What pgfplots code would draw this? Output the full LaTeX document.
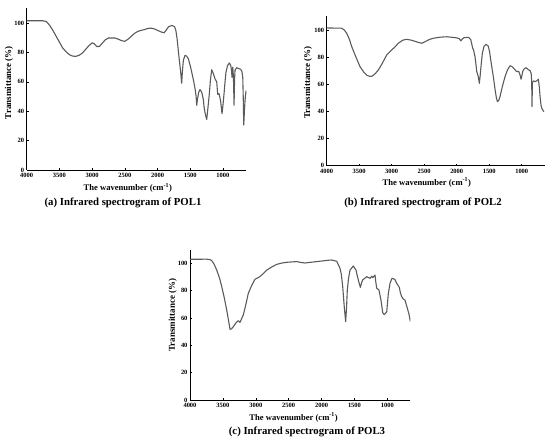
\documentclass[border=0pt]{standalone}
\usepackage{fontspec}
\setmainfont{Liberation Serif}
\usepackage{pgfplots}
\pgfplotsset{compat=1.18}
\definecolor{curve}{RGB}{90,90,90}
\newcommand\lblfont{\fontsize{8.6}{10}\selectfont\bfseries}
\newcommand\ylblfont{\fontsize{9}{10}\selectfont\bfseries}
\pgfplotsset{ir/.style={
  scale only axis,
  anchor=south west,
  axis x line=bottom, axis y line=left,
  axis line style={-, line width=0.6pt},
  x dir=reverse,
  xmax=4000, ymin=0, ymax=110,
  xtick={1000,1500,2000,2500,3000,3500,4000},
  ytick={0,20,40,60,80,100},
  tick align=inside, major tick length=2bp,
  tick style={black, line width=0.5pt},
  ticklabel style={font=\fontsize{6.5}{7}\selectfont\bfseries},
  yticklabel style={xshift=1bp},
  /pgf/number format/assume math mode=true,
  /pgf/number format/1000 sep={},
  xlabel={The wavenumber (cm\textsuperscript{-1})},
  ylabel={Transmittance (\%)},
  clip=true,
}}
\pgfplotsset{spec/.style={color=curve, line width=1.1pt, mark=none, line join=round}}
\begin{document}
\begin{tikzpicture}
\path[use as bounding box] (0,0) rectangle (550bp,444bp);
% (a)
\begin{axis}[ir, at={(26.7bp,274bp)}, width=219.8bp, height=161.7bp, xmin=640,
  every axis x label/.style={at={(axis description cs:0.46,0)}, anchor=center, yshift=-18bp, font=\lblfont},
  every axis y label/.style={at={(axis description cs:0,0.54)}, xshift=-17.7bp, anchor=center, rotate=90, font=\ylblfont}]
\addplot[spec] coordinates {
(4000,101.5)(3750,101.5)(3700,101)(3650,98.5)(3600,95)(3550,91)(3500,87)(3450,83)(3400,80.5)(3350,78.5)(3300,77.5)(3250,77.3)(3200,78)(3150,79.5)(3100,82)(3050,84.5)(3000,86.5)(2970,86)(2930,84)(2890,84)(2850,86)(2800,88.5)(2750,89.8)(2650,89.8)(2600,89)(2550,88)(2500,87.5)(2450,89)(2400,91)(2350,93)(2300,94.3)(2250,95)(2200,95.5)(2150,96.3)(2100,96.5)(2050,96)(2000,95)(1950,94)(1900,93.3)(1870,95)(1830,97.5)(1780,98.3)(1740,97.5)(1720,95)(1700,89)(1682,81)(1660,72)(1645,66)(1631,59)(1618,68)(1605,74.6)(1580,78)(1555,77.5)(1529,75.7)(1500,71)(1478,66.7)(1450,61)(1427,55.4)(1410,50)(1401,44)(1390,48)(1370,53)(1350,54.7)(1325,53)(1300,48)(1289,43)(1270,38)(1248,34.4)(1230,42)(1208,52)(1190,62)(1171,68.2)(1160,67)(1146,65.5)(1121,62)(1095,59.9)(1085,54)(1080,51.5)(1060,52)(1045,49)(1034,46.3)(1014,38.4)(1000,44)(983,52)(968,60)(953,66.7)(930,71)(902,72.8)(880,71)(870,68)(861,63)(855,68)(850,70)(840,64)(830,44)(822,62)(815,68)(789,69.6)(760,69)(728,68.5)(710,67)(697,63)(690,50)(682,30.5)(672,40)(662,47.5)(647,54)
};
\end{axis}
% (b)
\begin{axis}[ir, at={(326.7bp,278.3bp)}, width=217.8bp, height=149.3bp, xmin=650,
  every axis x label/.style={at={(axis description cs:0.46,0)}, anchor=center, yshift=-17bp, font=\lblfont},
  every axis y label/.style={at={(axis description cs:0,0.557)}, xshift=-18.7bp, anchor=center, rotate=90, font=\ylblfont}]
\addplot[spec] coordinates {
(4000,101.5)(3770,101.3)(3730,100)(3692,97.6)(3650,93)(3615,87.7)(3550,80)(3488,73)(3430,69)(3380,66.5)(3334,65.8)(3300,66)(3250,68)(3206,70.5)(3150,75)(3100,79.5)(3077,81.6)(3000,85.3)(2950,87.5)(2898,90.2)(2830,92.5)(2769,93.1)(2700,92.5)(2666,92)(2600,91)(2538,90.2)(2480,91.5)(2420,93)(2360,93.9)(2250,94.7)(2154,95)(2050,94.5)(2000,94.2)(1960,93.5)(1938,92)(1910,93.5)(1888,94.3)(1822,94.6)(1785,93)(1754,86.5)(1740,85)(1719,80.3)(1705,75)(1692,69.3)(1670,66)(1652,60.7)(1640,66)(1631,71)(1606,82.8)(1580,88)(1549,89.5)(1514,88)(1495,84)(1477,78)(1455,71)(1437,65.6)(1410,56)(1390,50)(1375,47.2)(1355,48)(1334,51)(1300,58)(1257,65.6)(1220,70.5)(1180,73.7)(1150,73)(1129,72)(1077,69.3)(1046,69.5)(1026,66.8)(1010,63.7)(995,67)(985,69.5)(960,71.5)(934,72.2)(898,70.7)(872,70)(855,68)(847,62)(842,43.5)(836,61)(820,62.5)(795,62)(770,62.5)(744,63.7)(730,58)(718,51)(705,45)(692,42.3)(670,40.5)(657,39.8)
};
\end{axis}
% (c)
\begin{axis}[ir, at={(190bp,44bp)}, width=220.4bp, height=150.4bp, xmin=650,
  every axis x label/.style={at={(axis description cs:0.47,0)}, anchor=center, yshift=-17.3bp, font=\lblfont},
  every axis y label/.style={at={(axis description cs:0,0.565)}, xshift=-17.3bp, anchor=center, rotate=90, font=\ylblfont}]
\addplot[spec] coordinates {
(4000,102.9)(3746,103)(3700,102.7)(3670,102)(3630,99)(3594,95)(3550,89)(3518,83)(3480,75)(3442,65.8)(3410,57)(3392,51.7)(3370,52)(3342,53.6)(3300,56.5)(3266,58)(3240,56.8)(3220,59)(3190,62.2)(3150,70)(3114,78)(3060,84)(3012,88.3)(2946,90)(2900,91.8)(2834,95)(2750,97.5)(2682,99.2)(2600,100.2)(2530,100.7)(2450,101)(2378,101.2)(2300,100.5)(2252,100.2)(2150,100.8)(2024,101.5)(1900,102.2)(1846,102.4)(1800,101.8)(1770,101.5)(1720,96.3)(1700,92)(1679,83)(1655,68)(1634,57.3)(1620,68)(1609,80.5)(1590,89)(1568,95)(1518,98)(1477,95)(1442,87.8)(1411,82.4)(1390,86)(1375,87.8)(1314,90.2)(1264,89)(1238,90.5)(1223,89.5)(1188,91.4)(1175,86)(1162,81.7)(1128,80.5)(1097,73)(1071,63.9)(1050,62.5)(1036,63)(1010,64.5)(985,78)(960,85.3)(930,89)(910,88.8)(884,88)(858,85.3)(819,82.4)(800,78)(782,75.6)(760,74)(732,73)(696,67)(670,62.5)(652,57.5)
};
\end{axis}
\node[font=\fontsize{10.8}{12}\selectfont\bfseries] at (123bp,241bp) {(a) Infrared spectrogram of POL1};
\node[font=\fontsize{10.8}{12}\selectfont\bfseries] at (423bp,241bp) {(b) Infrared spectrogram of POL2};
\node[font=\fontsize{10.8}{12}\selectfont\bfseries] at (307bp,12bp) {(c) Infrared spectrogram of POL3};
\end{tikzpicture}
\end{document}
